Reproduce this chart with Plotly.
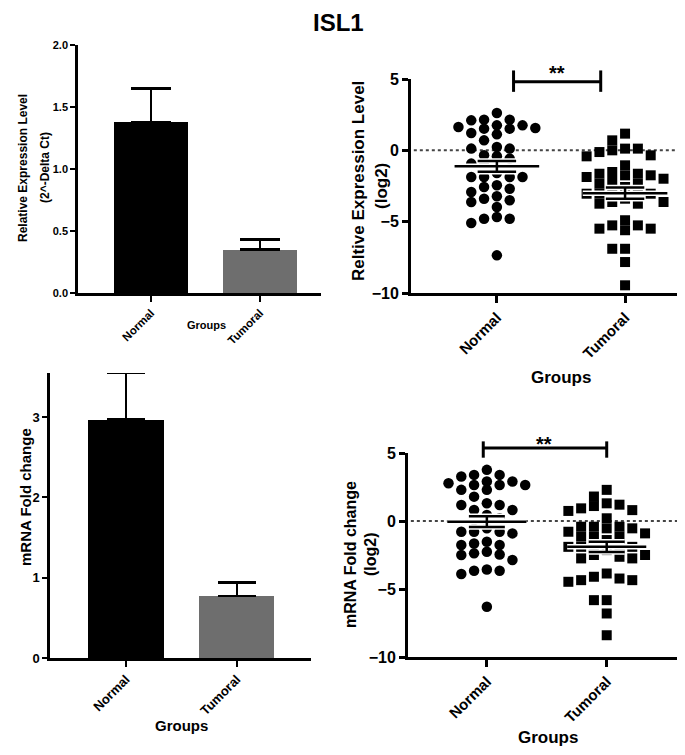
import plotly.graph_objects as go

W, H = 685, 755
OFFX, OFFY = 0, 8  # page offset of the figure in the browser

groups = ["Normal", "Tumoral"]

# Panel A: bar chart (2^-Delta Ct)
bar_a = [1.38, 0.35]
err_a = [0.27, 0.08]
yticks_a = [0.0, 0.5, 1.0, 1.5, 2.0]

# Panel C: bar chart (mRNA fold change)
bar_c = [2.97, 0.77]
err_c = [0.58, 0.17]
yticks_c = [0, 1, 2, 3]

# Panel B: log2 relative expression
normal_b = [2.62, 1.75, 2.15, 2.15, 1.52, 1.52, 1.57, 1.75, 1.12, 2.10, 1.21, 1.63,
            0.70, 0.12, 0.23, 0.12, -0.42, -0.58, -0.35, -1.05, -1.59, -0.93,
            -1.87, -1.87, -2.92, -3.62, -2.45, -3.22, -1.87, -2.69, -3.50, -1.87,
            -2.57, -3.39, -4.79, -3.97, -5.09, -4.67, -4.79, -7.36]
tumoral_b = [1.17, 0.12, -0.35, -0.12, 0.70, 0.00, 0.12, -0.42, -1.64, -1.99,
             -1.75, -2.34, -1.05, -1.75, -2.34, -1.52, -2.22, -1.87, -2.57, -1.64,
             -3.39, -3.04, -3.04, -3.62, -3.04, -3.74, -3.04, -3.04, -3.62, -3.74,
             -4.90, -5.60, -5.26, -5.49, -5.26, -5.49, -6.90, -6.90, -7.83, -9.46]
mean_b = [-1.12, -3.0]
sem_b = [0.38, 0.40]

# Panel D: log2 mRNA fold change
normal_d = [3.76, 2.90, 3.39, 3.39, 2.65, 2.65, 2.65, 2.90, 2.29, 3.27, 2.29, 2.78,
            1.79, 1.18, 1.30, 0.81, 0.81, 1.18, 0.44, 0.20, -0.54, 0.07,
            -0.79, -1.77, -2.50, -3.66, -0.79, -1.52, -2.26, -2.87, -3.90,
            -0.91, -1.77, -2.46, -3.56, -0.79, -1.65, -2.38, -3.66, -6.31]
tumoral_d = [2.29, 1.10, 0.74, 0.93, 0.20, 1.80, 1.20, 1.30, 0.80, -0.42, -0.91,
             -0.54, -1.15, -0.42, -1.15, -0.42, -1.15, -0.79, -1.40, -0.54,
             -2.14, -1.90, -2.75, -1.90, -2.50, -1.90, -2.75, -1.90, -2.50, -1.90,
             -2.63, -3.86, -4.47, -4.10, -4.35, -4.23, -4.35, -5.82, -5.82, -6.80, -8.40]
mean_d = [-0.05, -1.90]
sem_d = [0.40, 0.38]
yticks_sc = [-10, -5, 0, 5]

FONT = "Liberation Sans"


def pxx(x):
    return min(1.0, (x - OFFX) / W)


def pxy(y):
    return min(1.0, 1 - (y - OFFY) / H)


def swarm(vals, step, ppx_unit, ppy_unit, d=9.0, maxc=3):
    """Column beeswarm (GraphPad-like): returns x offsets in axis units."""
    order = sorted(range(len(vals)), key=lambda i: -vals[i])
    placed = []
    offs = [0.0] * len(vals)
    cands = [0]
    for j in range(1, maxc + 1):
        cands += [-j, j]
    for i in order:
        ypx = vals[i] * ppy_unit
        best, bestgap = None, -1
        for c in cands:
            gaps = [abs(pyy - ypx) for pc, pyy in placed if pc == c]
            gap = min(gaps) if gaps else 1e9
            if gap >= d:
                best = c
                break
            if gap > bestgap:
                best, bestgap = c, gap
        placed.append((best, ypx))
        offs[i] = best * step / ppx_unit
    return offs


fig = go.Figure()

# ---------- Panel A ----------
fig.add_trace(go.Bar(
    x=[0, 1], y=bar_a, width=0.68, marker=dict(color=["#000000", "#6e6e6e"], line_width=0),
    error_y=dict(type="data", symmetric=False, array=err_a, arrayminus=[0, 0],
                 color="black", thickness=2.5, width=20),
    xaxis="x", yaxis="y", showlegend=False))

# ---------- Panel C ----------
fig.add_trace(go.Bar(
    x=[0, 1], y=bar_c, width=0.68, marker=dict(color=["#000000", "#6e6e6e"], line_width=0),
    error_y=dict(type="data", symmetric=False, array=err_c, arrayminus=[0, 0],
                 color="black", thickness=2.5, width=19),
    xaxis="x3", yaxis="y3", showlegend=False, cliponaxis=False))


def scatter_panel(xa, ya, nvals, tvals, means, sems, ppx_unit, ppy_unit):
    step = 12.8
    for gi, (vals, sym) in enumerate([(nvals, "circle"), (tvals, "square")]):
        offs = swarm(vals, step, ppx_unit, ppy_unit, d=9.0, maxc=3)
        fig.add_trace(go.Scatter(
            x=[gi + o for o in offs], y=vals, mode="markers",
            marker=dict(symbol=sym, size=10.5 if sym == "circle" else 10, color="black",
                        line=dict(width=0)),
            xaxis=xa, yaxis=ya, showlegend=False, cliponaxis=False))
    for gi in range(2):
        m, s = means[gi], sems[gi]
        for col, lw in (("white", 5.5), ("black", 2.5)):
            fig.add_trace(go.Scatter(
                x=[gi - 0.33, gi + 0.33, None, gi - 0.15, gi + 0.15, None,
                   gi - 0.15, gi + 0.15, None, gi, gi],
                y=[m, m, None, m + s, m + s, None, m - s, m - s, None, m - s, m + s],
                mode="lines", line=dict(color=col, width=lw),
                xaxis=xa, yaxis=ya, showlegend=False, hoverinfo="skip"))


scatter_panel("x2", "y2", normal_b, tumoral_b, mean_b, sem_b, 128.0, 14.27)
scatter_panel("x4", "y4", normal_d, tumoral_d, mean_d, sem_d, 120.0, 13.56)

axis_common = dict(showline=True, linecolor="black", ticks="outside", tickcolor="black",
                   showgrid=False, zeroline=False, fixedrange=True, automargin=False)

layout = dict(
    width=W, height=H, margin=dict(l=0, r=0, t=0, b=0, pad=0, autoexpand=False),
    plot_bgcolor="white", paper_bgcolor="white", bargap=0,
    font=dict(family=FONT, color="black"),
    # Panel A
    xaxis=dict(domain=[pxx(70), pxx(313)], range=[-0.67, 1.56], tickvals=[0, 1], ticktext=groups,
               tickangle=-45, tickfont=dict(size=11.5, weight="bold"), linewidth=2.5, tickwidth=2,
               ticklen=6, anchor="y", **axis_common),
    yaxis=dict(domain=[pxy(293), pxy(45)], range=[0, 2.0], tickvals=yticks_a,
               ticktext=["%.1f" % v for v in yticks_a], tickfont=dict(size=11, weight="bold"),
               linewidth=2.5, tickwidth=2, ticklen=5, anchor="x", **axis_common),
    # Panel B
    xaxis2=dict(domain=[pxx(403), 1.0], range=[-0.67, 1.53], tickvals=[0, 1],
                ticktext=groups, tickangle=-45, tickfont=dict(size=15, weight="bold"), linewidth=3,
                tickwidth=2.5, ticklen=7, anchor="y2", **axis_common),
    yaxis2=dict(domain=[pxy(293), pxy(79)], range=[-10, 5], tickvals=yticks_sc,
                tickfont=dict(size=16, weight="bold"), linewidth=3, tickwidth=2.5, ticklen=6,
                anchor="x2", **axis_common),
    # Panel C
    xaxis3=dict(domain=[pxx(42), pxx(303)], range=[-0.685, 1.67], tickvals=[0, 1], ticktext=groups,
                tickangle=-45, tickfont=dict(size=13, weight="bold"), linewidth=2.5, tickwidth=2,
                ticklen=6, anchor="y3", **axis_common),
    yaxis3=dict(domain=[pxy(658), pxy(373)], range=[0, 3.55], tickvals=yticks_c,
                tickfont=dict(size=13, weight="bold"), linewidth=2.5, tickwidth=2, ticklen=5,
                anchor="x3", **axis_common),
    # Panel D
    xaxis4=dict(domain=[pxx(400), 1.0], range=[-0.658, 1.72], tickvals=[0, 1],
                ticktext=groups, tickangle=-45, tickfont=dict(size=15, weight="bold"), linewidth=3,
                tickwidth=2.5, ticklen=7, anchor="y4", **axis_common),
    yaxis4=dict(domain=[pxy(657), pxy(453)], range=[-10, 5], tickvals=yticks_sc,
                tickfont=dict(size=16, weight="bold"), linewidth=3, tickwidth=2.5, ticklen=6,
                anchor="x4", **axis_common),
)
fig.update_layout(**layout)

shapes = []
# dotted zero lines
for xa, ya in (("x2", "y2"), ("x4", "y4")):
    shapes.append(dict(type="line", xref=xa + " domain", yref=ya, x0=0.01, x1=1, y0=0, y1=0,
                       line=dict(color="#444444", width=2, dash="dot"), layer="below"))

# significance brackets
for (x0, x1, yb, ylo, yhi, ya, xa) in ((0.13, 0.81, 0.987, 0.94, 1.04, "y2", "x2"),
                                       (-0.03, 1.0, 1.025, 0.977, 1.057, "y4", "x4")):
    shapes.append(dict(type="line", xref=xa, yref=ya + " domain", x0=x0, x1=x1, y0=yb, y1=yb,
                       line=dict(color="black", width=3)))
    for xx in (x0, x1):
        shapes.append(dict(type="line", xref=xa, yref=ya + " domain", x0=xx, x1=xx, y0=ylo, y1=yhi,
                           line=dict(color="black", width=3)))
fig.update_layout(shapes=shapes)

ann = []


def text(x, y, s, size, angle=0, yanchor="middle"):
    ann.append(dict(x=pxx(x), y=pxy(y), xref="paper", yref="paper", text=s, showarrow=False,
                    textangle=angle, xanchor="center", yanchor=yanchor, borderpad=0,
                    font=dict(family=FONT, size=size, color="black", weight="bold")))


text(330, 8, "ISL1", 24, yanchor="top")
# Panel A labels
text(15, 168, "Relative Expression Level", 12, -90)
text(37, 168, "(2^-Delta Ct)", 12, -90)
text(198, 325, "Groups", 11)
# Panel B labels
text(351, 181, "Reltive Expression Level", 17, -90)
text(373, 186, "(log2)", 17, -90)
text(553, 377, "Groups", 17)
text(549, 73, "**", 20)
# Panel C labels
text(17, 497, "mRNA Fold change", 15, -90)
text(173, 725, "Groups", 15)
# Panel D labels
text(342, 555, "mRNA Fold change", 16, -90)
text(362, 554, "(log2)", 16, -90)
text(540, 737, "Groups", 17)
text(536, 444, "**", 20)
fig.update_layout(annotations=ann)

fig.write_html("out.html")
